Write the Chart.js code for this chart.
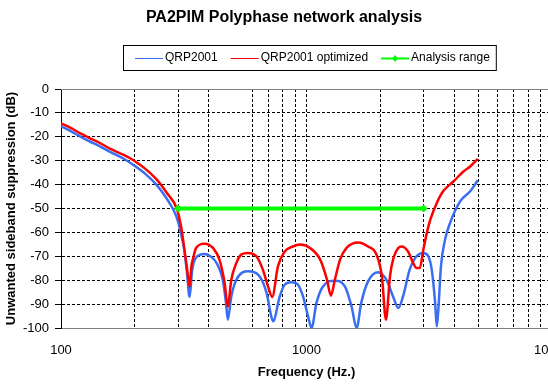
<!DOCTYPE html>
<html>
<head>
<meta charset="utf-8">
<title>PA2PIM Polyphase network analysis</title>
<script src="https://cdn.jsdelivr.net/npm/chart.js@4.4.1/dist/chart.umd.min.js"></script>
<style>
  html, body { margin: 0; padding: 0; background: #fff; overflow: hidden; }
  #wrap { position: relative; width: 572px; height: 387px; }
</style>
</head>
<body>
<div id="wrap"><canvas id="chart"></canvas></div>
<script>
const chartTitle = 'PA2PIM Polyphase network analysis';

// QRP2001 (blue)
const blueFreq = [100, 110, 120, 130, 144, 160, 180, 200, 220, 246, 270, 295, 309, 318, 326, 334, 342, 355, 385, 410,
  430, 456, 470, 478, 494, 518, 578, 635, 688, 718, 731, 778, 815, 868, 923, 968, 1014, 1048, 1098, 1167,
  1305, 1433, 1526, 1600, 1671, 1781, 1960, 2113, 2252, 2365, 2473, 2632, 2806, 2992, 3135, 3237, 3342, 3394, 3450, 3529,
  3668, 3846, 4224, 4643, 4989];
const blueDb = [-15.6, -17.7, -19.9, -21.8, -24, -26.5, -29.2, -32.2, -35.4, -40.3, -46, -53.3, -61, -67.5, -77, -87, -76, -70.5, -69, -70.3,
  -72.8, -79.8, -89.5, -96.5, -86.8, -79.8, -76.3, -77.7, -85.4, -95, -97.2, -86.8, -81.9, -80.9, -81.9, -86.8, -95, -100, -89.5, -82.6,
  -80.2, -82.6, -91, -100, -89.5, -80.5, -76.7, -79.8, -86.8, -91.6, -86.8, -75.6, -70, -68.6, -70, -75.6, -89.5, -99.3, -91, -74.2,
  -63, -56, -47, -42.8, -38.2];

// QRP2001 optimized (red)
const redFreq = [100, 110, 120, 130, 144, 160, 180, 200, 220, 246, 270, 296, 309, 318, 326, 334, 340, 345, 355, 385,
  416, 442, 464, 478, 494, 518, 542, 578, 625, 664, 697, 725, 765, 815, 880, 939, 1033, 1137, 1212, 1257,
  1305, 1370, 1456, 1624, 1781, 1932, 2028, 2107, 2188, 2252, 2365, 2442, 2592, 2720, 2806, 2894, 2992, 3090, 3194, 3394,
  3601, 3967, 4358, 4643, 4989];
const redDb = [-14.4, -16.4, -18.6, -20.4, -22.6, -25.2, -27.6, -30.2, -33.3, -38, -43.5, -50, -58, -67, -75, -82.6, -74, -71, -66.5, -64.7,
  -66.5, -71.4, -81.2, -91, -79.8, -72.8, -69.3, -68.6, -70, -75.6, -82.6, -87, -74.2, -68, -65.9, -65.1, -66.5, -71.4, -79.8, -86.5,
  -79.8, -71.4, -66.5, -64.2, -65.9, -69.5, -78.4, -96.5, -78.4, -71.4, -66.5, -65.9, -68, -72.8, -74.9, -74.9, -67.2, -60.3, -54.7, -47.7,
  -42.8, -38.7, -34.5, -32.4, -29.2];

// Analysis range (green)
const rangeFreq = [300, 3000];
const rangeDb = [-50, -50];

// x grid positions and the ones that get a label
const xGridValues = [100, 200, 300, 400, 500, 600, 700, 800, 900,
  1000, 2000, 3000, 4000, 5000, 6000, 7000, 8000, 9000, 10000];
const xLabelValues = [100, 1000, 10000];
const xHiddenGrid = [500];

function toPoints(xs, ys) {
  return xs.map((x, i) => ({ x: x, y: ys[i] }));
}

// chart title + boxed legend drawn on top of the canvas
const titleAndLegend = {
  id: 'titleAndLegend',
  beforeDatasetsDraw(chart) {
    const { ctx, chartArea } = chart;
    ctx.save();
    ctx.strokeStyle = '#808080';
    ctx.lineWidth = 1;
    ctx.beginPath();
    ctx.moveTo(chartArea.left, chartArea.top + 0.5);
    ctx.lineTo(chartArea.right, chartArea.top + 0.5);
    ctx.stroke();
    ctx.restore();
  },
  afterDraw(chart) {
    const ctx = chart.ctx;
    ctx.save();
    ctx.fillStyle = '#000';
    ctx.textAlign = 'center';
    ctx.textBaseline = 'middle';
    ctx.font = 'bold 16px "Liberation Sans", Arial, sans-serif';
    ctx.fillText(chartTitle, 284, 18);

    ctx.font = '12px "Liberation Sans", Arial, sans-serif';
    ctx.textAlign = 'left';
    const y = 58;
    let x = 135;
    chart.data.datasets.forEach(ds => {
      const isRange = ds.pointRadius > 0;
      ctx.strokeStyle = ds.borderColor;
      ctx.lineWidth = isRange ? 2 : 1;
      ctx.beginPath();
      ctx.moveTo(x, y + 0.5);
      ctx.lineTo(x + 28, y + 0.5);
      ctx.stroke();
      if (isRange) {
        ctx.fillStyle = ds.borderColor;
        ctx.beginPath();
        ctx.moveTo(x + 14, y - 3);
        ctx.lineTo(x + 17, y + 0.5);
        ctx.lineTo(x + 14, y + 4);
        ctx.lineTo(x + 11, y + 0.5);
        ctx.closePath();
        ctx.fill();
      }
      ctx.fillStyle = '#000';
      ctx.fillText(ds.label, x + 30, y);
      x += 30 + ctx.measureText(ds.label).width + 13;
    });
    ctx.strokeStyle = '#000';
    ctx.lineWidth = 1;
    ctx.strokeRect(123.5, 45.5, x - 13 + 6 - 123, 25);
    ctx.restore();
  }
};

const ctx = document.getElementById('chart').getContext('2d');
new Chart(ctx, {
  type: 'line',
  data: {
    datasets: [
      {
        label: 'QRP2001',
        data: toPoints(blueFreq, blueDb),
        borderColor: '#3a6ef2',
        borderWidth: 2.5,
        pointRadius: 0,
        cubicInterpolationMode: 'monotone',
        order: 2
      },
      {
        label: 'QRP2001 optimized',
        data: toPoints(redFreq, redDb),
        borderColor: '#ff0000',
        borderWidth: 2.5,
        pointRadius: 0,
        cubicInterpolationMode: 'monotone',
        order: 1
      },
      {
        label: 'Analysis range',
        data: toPoints(rangeFreq, rangeDb),
        borderColor: '#00ff00',
        backgroundColor: '#00ff00',
        borderWidth: 4,
        pointRadius: 4,
        pointBorderWidth: 0,
        pointStyle: 'rectRot',
        order: 0
      }
    ]
  },
  options: {
    responsive: true,
    maintainAspectRatio: false,
    animation: false,
    devicePixelRatio: 1,
    layout: { padding: { top: 89, right: 20, left: 0, bottom: 0 } },
    plugins: {
      legend: { display: false },
      title: { display: false },
      tooltip: { enabled: false }
    },
    scales: {
      x: {
        type: 'logarithmic',
        min: 100,
        max: 10000,
        afterBuildTicks: scale => {
          scale.ticks = xGridValues.map(v => ({ value: v }));
        },
        afterFit: scale => {
          scale.height = 59;
          scale.paddingLeft = 0;
          scale.paddingRight = 0;
        },
        ticks: {
          autoSkip: false,
          maxRotation: 0,
          padding: 15,
          color: '#000',
          font: { size: 13, family: '"Liberation Sans", Arial, sans-serif' },
          callback: value => xLabelValues.includes(value) ? String(value) : ''
        },
        grid: {
          drawTicks: false,
          color: c => (c.tick && xHiddenGrid.includes(c.tick.value)) ? 'rgba(0,0,0,0)' : '#000',
          lineWidth: 1
        },
        border: { color: '#808080', width: 1, dash: [3, 2] },
        title: {
          display: true,
          text: 'Frequency (Hz.)',
          color: '#000',
          padding: { top: 0, bottom: 7 },
          font: { size: 13, weight: 'bold', family: '"Liberation Sans", Arial, sans-serif' }
        }
      },
      y: {
        min: -100,
        max: 0,
        afterFit: scale => { scale.width = 61; },
        ticks: {
          stepSize: 10,
          padding: 6,
          color: '#000',
          font: { size: 13, family: '"Liberation Sans", Arial, sans-serif' }
        },
        grid: {
          drawTicks: true,
          tickLength: 6,
          tickColor: '#000',
          tickBorderDash: [],
          color: c => (c.tick && (c.tick.value === 0 || c.tick.value === -100)) ? 'rgba(0,0,0,0)' : '#000',
          lineWidth: 1
        },
        border: { color: '#000', width: 1, dash: [3, 2] },
        title: {
          display: true,
          text: 'Unwanted sideband suppression (dB)',
          color: '#000',
          padding: { top: 4, bottom: 4 },
          font: { size: 13, weight: 'bold', family: '"Liberation Sans", Arial, sans-serif' }
        }
      }
    }
  },
  plugins: [titleAndLegend]
});
</script>
</body>
</html>
